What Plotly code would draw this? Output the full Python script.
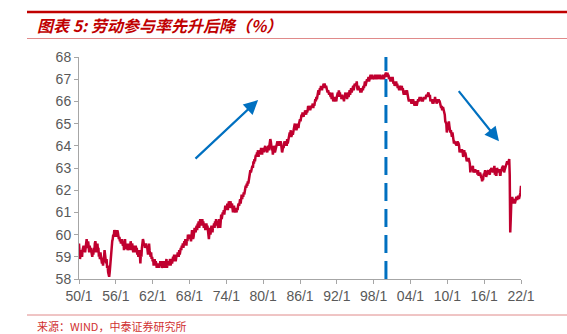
import plotly.graph_objects as go

start_year = 1950
# US labor force participation rate (%), monthly, one row per year (Jan..Dec)
lfpr = [
    [59.6, 59.2, 58.9, 59.1, 59.3, 59.2, 59.0, 59.3, 59.4, 59.5, 59.3, 59.4],  # 1950
    [59.2, 59.4, 59.6, 59.8, 59.5, 59.4, 59.7, 59.4, 59.2, 59.5, 59.3, 59.4],
    [59.3, 59.2, 59.0, 59.3, 59.1, 59.4, 59.2, 59.6, 59.7, 59.5, 59.2, 59.4],
    [59.6, 59.3, 59.4, 59.0, 59.1, 58.9, 59.2, 59.0, 58.8, 58.7, 58.9, 58.6],
    [58.9, 59.0, 59.3, 59.1, 58.8, 58.7, 58.9, 58.5, 58.6, 58.3, 58.2, 58.1],
    [58.3, 58.6, 58.9, 59.4, 59.3, 59.7, 59.8, 60.0, 59.9, 60.2, 60.1, 60.2],  # 1955
    [60.1, 59.9, 60.0, 60.2, 60.1, 60.0, 59.8, 59.9, 59.7, 59.8, 59.6, 59.7],
    [59.8, 59.6, 59.5, 59.7, 59.3, 59.5, 59.8, 59.4, 59.4, 59.5, 59.6, 59.3],
    [59.4, 59.5, 59.3, 59.6, 59.4, 59.7, 59.5, 59.3, 59.6, 59.4, 59.2, 59.5],
    [59.3, 59.2, 59.4, 59.5, 59.3, 59.4, 59.1, 59.3, 59.0, 59.2, 59.3, 59.1],
    [58.7, 59.2, 59.0, 59.4, 59.6, 59.8, 59.7, 59.5, 59.6, 59.4, 59.5, 59.6],  # 1960
    [59.4, 59.5, 59.3, 59.1, 59.2, 59.6, 59.3, 59.1, 59.0, 59.2, 58.9, 59.0],
    [58.8, 58.9, 58.6, 58.7, 58.9, 58.6, 58.8, 58.7, 58.5, 58.7, 58.6, 58.7],
    [58.5, 58.7, 58.6, 58.8, 58.6, 58.7, 58.5, 58.6, 58.8, 58.6, 58.7, 58.5],
    [58.6, 58.8, 58.7, 58.9, 58.5, 58.7, 58.6, 58.8, 58.6, 58.7, 58.9, 58.6],
    [58.8, 58.9, 58.7, 58.9, 59.0, 58.8, 59.1, 58.9, 59.0, 58.8, 59.0, 59.1],  # 1965
    [59.0, 59.2, 59.1, 59.0, 59.3, 59.1, 59.2, 59.4, 59.3, 59.5, 59.4, 59.6],
    [59.4, 59.5, 59.7, 59.6, 59.8, 59.7, 59.5, 59.8, 59.7, 60.0, 59.8, 59.9],
    [60.0, 59.8, 59.9, 59.7, 59.9, 60.2, 60.0, 59.8, 59.9, 60.1, 60.3, 60.2],
    [60.1, 60.3, 60.4, 60.2, 60.5, 60.4, 60.6, 60.3, 60.5, 60.7, 60.4, 60.6],
    [60.5, 60.7, 60.4, 60.6, 60.3, 60.5, 60.4, 60.2, 60.4, 60.5, 60.3, 60.4],  # 1970
    [60.2, 60.0, 59.8, 60.1, 60.3, 60.0, 60.2, 60.4, 60.3, 60.1, 60.4, 60.3],
    [60.5, 60.3, 60.6, 60.4, 60.7, 60.5, 60.6, 60.4, 60.3, 60.5, 60.7, 60.6],
    [60.3, 60.6, 60.9, 60.7, 60.8, 61.0, 60.9, 61.1, 60.9, 61.2, 61.3, 61.1],
    [61.3, 61.2, 61.4, 61.1, 61.3, 61.5, 61.4, 61.2, 61.5, 61.3, 61.2, 61.4],
    [61.2, 61.0, 61.2, 61.3, 61.1, 61.0, 61.2, 61.1, 61.0, 61.2, 61.1, 61.3],  # 1975
    [61.4, 61.3, 61.5, 61.6, 61.4, 61.7, 61.8, 61.6, 61.8, 61.7, 61.9, 61.8],
    [61.9, 62.0, 62.2, 62.1, 62.3, 62.2, 62.4, 62.3, 62.5, 62.6, 62.7, 62.9],
    [62.8, 62.9, 63.0, 63.1, 63.0, 63.3, 63.2, 63.4, 63.3, 63.5, 63.6, 63.5],
    [63.7, 63.6, 63.8, 63.5, 63.7, 63.6, 63.8, 63.7, 63.9, 63.8, 63.6, 63.9],
    [63.8, 63.9, 63.7, 63.9, 64.0, 63.8, 63.9, 63.8, 63.7, 63.9, 64.0, 63.8],  # 1980
    [64.0, 64.1, 64.3, 64.2, 64.0, 63.8, 63.9, 63.6, 63.8, 64.0, 63.9, 63.7],
    [63.8, 63.9, 64.0, 64.1, 64.2, 64.0, 64.1, 64.2, 64.0, 64.1, 64.2, 64.1],
    [63.9, 63.7, 63.8, 64.0, 63.9, 64.1, 64.2, 64.0, 64.1, 64.2, 64.0, 64.3],
    [64.1, 64.3, 64.2, 64.4, 64.6, 64.5, 64.7, 64.4, 64.5, 64.6, 64.5, 64.7],
    [64.8, 64.9, 65.0, 64.8, 64.9, 64.7, 64.8, 65.0, 64.9, 64.8, 65.0, 65.1],  # 1985
    [65.2, 65.1, 65.3, 65.4, 65.3, 65.5, 65.4, 65.3, 65.5, 65.4, 65.6, 65.5],
    [65.4, 65.6, 65.5, 65.6, 65.8, 65.6, 65.7, 65.8, 65.6, 65.7, 65.8, 65.7],
    [65.8, 65.9, 65.7, 65.9, 65.8, 66.0, 66.1, 66.0, 66.2, 66.1, 66.3, 66.4],
    [66.5, 66.3, 66.4, 66.6, 66.5, 66.7, 66.6, 66.5, 66.7, 66.6, 66.8, 66.7],
    [66.8, 66.7, 66.6, 66.7, 66.6, 66.5, 66.4, 66.5, 66.4, 66.3, 66.4, 66.3],  # 1990
    [66.2, 66.3, 66.1, 66.4, 66.2, 66.0, 66.1, 66.0, 66.2, 66.0, 66.1, 66.0],
    [66.2, 66.3, 66.4, 66.2, 66.5, 66.3, 66.4, 66.2, 66.3, 66.1, 66.3, 66.2],
    [66.1, 66.2, 66.0, 66.2, 66.3, 66.4, 66.2, 66.3, 66.1, 66.3, 66.4, 66.2],
    [66.4, 66.5, 66.3, 66.5, 66.6, 66.4, 66.5, 66.6, 66.7, 66.5, 66.6, 66.8],
    [66.7, 66.8, 66.7, 66.9, 66.6, 66.5, 66.7, 66.6, 66.5, 66.6, 66.4, 66.5],  # 1995
    [66.4, 66.5, 66.6, 66.5, 66.7, 66.6, 66.8, 66.9, 66.7, 66.8, 66.9, 67.0],
    [66.9, 67.0, 67.1, 66.9, 67.0, 67.1, 67.2, 67.0, 67.1, 67.2, 67.0, 67.1],
    [67.1, 67.0, 67.1, 67.2, 67.1, 67.0, 67.1, 67.2, 67.1, 67.0, 67.2, 67.1],
    [67.2, 67.1, 67.0, 67.1, 67.0, 67.1, 67.2, 67.1, 67.0, 67.1, 67.2, 67.3],
    [67.3, 67.2, 67.1, 67.3, 67.1, 67.2, 67.0, 67.1, 67.0, 66.9, 67.0, 67.1],  # 2000
    [67.0, 67.1, 66.9, 66.8, 66.9, 66.7, 66.8, 66.7, 66.9, 66.7, 66.8, 66.6],
    [66.7, 66.6, 66.5, 66.7, 66.6, 66.5, 66.6, 66.7, 66.5, 66.6, 66.4, 66.3],
    [66.4, 66.3, 66.5, 66.4, 66.3, 66.5, 66.3, 66.2, 66.1, 66.0, 66.1, 66.0],
    [66.1, 66.0, 65.9, 66.0, 65.9, 66.1, 66.0, 65.9, 65.8, 65.9, 66.0, 66.0],
    [65.8, 66.0, 65.9, 66.1, 66.0, 66.1, 66.2, 66.1, 66.2, 66.1, 66.0, 66.1],  # 2005
    [66.0, 66.1, 66.2, 66.1, 66.2, 66.1, 66.2, 66.3, 66.2, 66.3, 66.4, 66.4],
    [66.3, 66.2, 66.3, 66.0, 66.1, 66.0, 66.1, 65.9, 66.0, 65.9, 66.1, 66.0],
    [66.2, 66.0, 66.1, 65.9, 66.1, 66.1, 66.0, 66.1, 66.0, 66.0, 65.9, 65.8],
    [65.7, 65.8, 65.6, 65.7, 65.7, 65.6, 65.5, 65.4, 65.1, 65.0, 65.0, 64.6],
    [64.8, 64.9, 64.9, 65.1, 64.9, 64.6, 64.6, 64.7, 64.6, 64.4, 64.6, 64.3],  # 2010
    [64.2, 64.1, 64.2, 64.1, 64.1, 64.1, 64.0, 64.1, 64.2, 64.1, 64.1, 64.0],
    [63.7, 63.8, 63.8, 63.7, 63.8, 63.8, 63.7, 63.5, 63.6, 63.8, 63.6, 63.7],
    [63.6, 63.4, 63.3, 63.4, 63.4, 63.4, 63.4, 63.3, 63.2, 62.8, 63.0, 62.9],
    [63.0, 63.0, 63.1, 62.8, 62.9, 62.9, 62.9, 62.9, 62.8, 62.9, 62.9, 62.7],
    [62.9, 62.7, 62.7, 62.7, 62.8, 62.6, 62.6, 62.6, 62.4, 62.5, 62.5, 62.7],  # 2015
    [62.7, 62.8, 62.9, 62.8, 62.6, 62.7, 62.8, 62.8, 62.9, 62.8, 62.7, 62.7],
    [62.9, 62.9, 63.0, 62.9, 62.8, 62.8, 62.9, 62.9, 63.1, 62.7, 62.8, 62.7],
    [62.7, 63.0, 62.9, 62.8, 62.8, 62.9, 62.9, 62.7, 62.7, 62.9, 62.9, 63.0],
    [63.1, 63.1, 63.0, 62.8, 62.9, 63.0, 63.1, 63.2, 63.2, 63.3, 63.2, 63.2],
    [63.3, 63.4, 62.7, 60.1, 60.7, 61.4, 61.5, 61.7, 61.4, 61.6, 61.5, 61.5],  # 2020
    [61.4, 61.5, 61.6, 61.7, 61.6, 61.6, 61.7, 61.7, 61.6, 61.7, 61.8, 61.9],
    [62.2],                                                                   # 2022
]

tick_years = [1950, 1956, 1962, 1968, 1974, 1980, 1986, 1992, 1998, 2004, 2010, 2016, 2022]
tick_labels = ["50/1", "56/1", "62/1", "68/1", "74/1", "80/1", "86/1", "92/1",
               "98/1", "04/1", "10/1", "16/1", "22/1"]

title_text = "图表 5: 劳动参与率先升后降（%）"
source_text = "来源：WIND，中泰证券研究所"

dates, values = [], []
for i, row in enumerate(lfpr):
    for m, v in enumerate(row):
        dates.append(f"{start_year + i}-{m + 1:02d}-01")
        values.append(v)

RED = "#C0002F"
BLUE = "#0070C0"
AXIS = "#A6A6A6"
TXT = "#595959"

fig = go.Figure()
fig.add_trace(go.Scatter(x=dates, y=values, mode="lines",
                         line=dict(color=RED, width=2.5), showlegend=False,
                         hoverinfo="skip"))

fig.update_layout(
    width=567, height=334,
    margin=dict(l=79, r=46, t=57, b=55),
    paper_bgcolor="white", plot_bgcolor="white",
    font=dict(family="Liberation Sans, Arial, sans-serif", size=14, color=TXT),
    xaxis=dict(
        range=["1950-01-01", "2022-01-01"],
        tickvals=[f"{y}-01-01" for y in tick_years], ticktext=tick_labels,
        showgrid=False, zeroline=False,
        showline=True, linecolor=AXIS, linewidth=1,
        ticks="outside", ticklen=4, tickcolor=AXIS,
        tickfont=dict(size=14, color=TXT),
    ),
    yaxis=dict(
        range=[58, 68], dtick=1, tick0=58,
        showgrid=False, zeroline=False,
        showline=True, linecolor=AXIS, linewidth=1,
        ticks="outside", ticklen=4, tickcolor=AXIS,
        tickfont=dict(size=14, color=TXT),
    ),
)

# vertical dashed line at 2000/1
fig.add_shape(type="line", xref="x", yref="y", x0="2000-01-01", x1="2000-01-01",
              y0=58, y1=68, line=dict(color=BLUE, width=3, dash="18px,8px"))

# trend arrows
fig.add_annotation(xref="x", yref="y", axref="x", ayref="y",
                   x="1979-03-06", y=66.06, ax="1968-09-24", ay=63.36,
                   showarrow=True, arrowhead=2, arrowsize=1.3, arrowwidth=2.2,
                   arrowcolor=BLUE, text="")
fig.add_annotation(xref="x", yref="y", axref="x", ayref="y",
                   x="2018-06-01", y=64.2, ax="2011-09-01", ay=66.53,
                   showarrow=True, arrowhead=2, arrowsize=1.3, arrowwidth=2.2,
                   arrowcolor=BLUE, text="")

# header / footer decoration (paper coords: plot area x 79..521, y 57..279)
def px(x):
    return (x - 79) / 442.0

def py(y):
    return (279 - y) / 222.0

fig.add_shape(type="line", xref="paper", yref="paper", x0=px(27), x1=px(567),
              y0=py(12), y1=py(12), line=dict(color="#C00000", width=2.5))
fig.add_shape(type="line", xref="paper", yref="paper", x0=px(27), x1=px(567),
              y0=py(38.5), y1=py(38.5), line=dict(color="#E08A8A", width=1))
fig.add_shape(type="line", xref="paper", yref="paper", x0=px(27), x1=px(567),
              y0=py(315), y1=py(315), line=dict(color="#E08A8A", width=1))

fig.add_annotation(xref="paper", yref="paper", x=px(35), y=py(25),
                   xanchor="left", yanchor="middle", showarrow=False,
                   text=f"<b><i>{title_text}</i></b>",
                   font=dict(family="Noto Sans CJK SC, sans-serif", size=16, color="#C00000"))
fig.add_annotation(xref="paper", yref="paper", x=px(35), y=py(326),
                   xanchor="left", yanchor="middle", showarrow=False,
                   text=source_text,
                   font=dict(family="Noto Sans CJK SC, monospace", size=11, color="#D03030"))

fig.write_html("out.html")
